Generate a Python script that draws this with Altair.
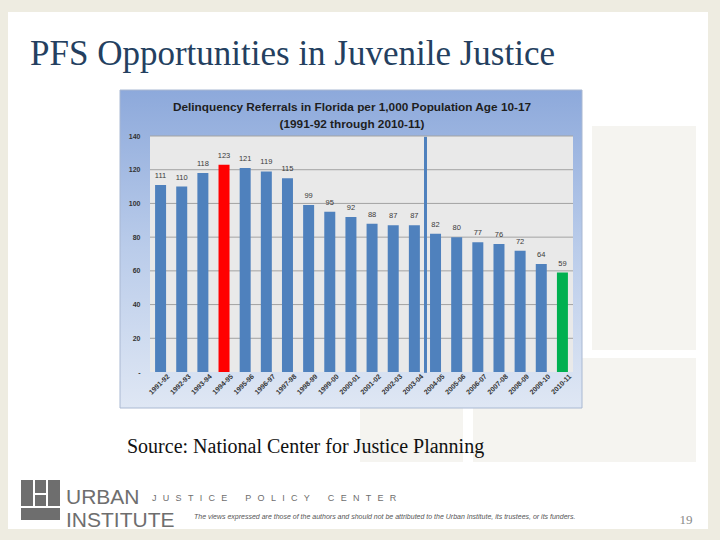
import altair as alt
import pandas as pd

# Delinquency referrals per 1,000 youths aged 10-17, Florida
years = ["1991-92", "1992-93", "1993-94", "1994-95", "1995-96", "1996-97",
         "1997-98", "1998-99", "1999-00", "2000-01", "2001-02", "2002-03",
         "2003-04", "2004-05", "2005-06", "2006-07", "2007-08", "2008-09",
         "2009-10", "2010-11"]
rates = [111, 110, 118, 123, 121, 119, 115, 99, 95, 92, 88, 87, 87, 82, 80,
         77, 76, 72, 64, 59]
peak_year = "1994-95"
latest_year = "2010-11"
divider_year = "2004-05"
y_ticks = [0, 20, 40, 60, 80, 100, 120, 140]
grid_ticks = [20, 40, 60, 80, 100, 120, 140]

df = pd.DataFrame({"year": years, "rate": rates})
df["group"] = ["peak" if y == peak_year else "latest" if y == latest_year else "other"
               for y in years]
grid_df = pd.DataFrame({"rate": grid_ticks})
divider_df = pd.DataFrame({"year": [divider_year], "rate": [139.5], "base": [-0.5]})
one = pd.DataFrame({"k": [0]})

# plot area placement on the 720x540 page
OX, OY = 150, 136
W, H = 423, 236

FONT = "Liberation Sans"
SERIF = "Liberation Serif"

x_axis = alt.Axis(labelAngle=-45, labelAlign="right", labelBaseline="middle",
                  labelOffset=8, labelPadding=3, ticks=False, domain=False,
                  grid=False, zindex=1)
y_axis = alt.Axis(values=y_ticks, ticks=False, domain=False, grid=False,
                  labelPadding=10, zindex=1,
                  labelExpr="datum.value == 0 ? '-' : datum.label")
x_scale = alt.Scale(domain=years, paddingInner=0.48, paddingOuter=0.24)
y_scale = alt.Scale(domain=[0, 140], nice=False)

x_enc = alt.X("year:N", sort=years, title=None, scale=x_scale, axis=x_axis)
y_enc = alt.Y("rate:Q", title=None, scale=y_scale, axis=y_axis)


def box(x0, y0, x1, y1, **kw):
    return alt.Chart(one).mark_rect(**kw).encode(
        x=alt.value(x0 - OX), x2=alt.value(x1 - OX),
        y=alt.value(y0 - OY), y2=alt.value(y1 - OY))


def label(text, x, y, **kw):
    return alt.Chart(one).mark_text(text=text, **kw).encode(
        x=alt.value(x - OX), y=alt.value(y - OY))


# slide furniture
page = box(8, 12, 708, 529, fill="white")
tiles = [
    box(592, 126, 696, 350, fill="#F5F4F0"),
    box(360, 358, 463, 462, fill="#F5F4F0"),
    box(473, 358, 696, 462, fill="#F5F4F0"),
]
chart_bg = box(120, 90, 582, 408,
               fill={"gradient": "linear", "x1": 0, "x2": 0, "y1": 0, "y2": 1,
                     "stops": [{"offset": 0, "color": "#8DA9DB"},
                               {"offset": 0.5, "color": "#BACCEA"},
                               {"offset": 1, "color": "#DFE7F4"}]},
               stroke="#A9B8D2", strokeWidth=1)
plot_bg = alt.Chart(one).mark_rect(fill="#E9E9E9").encode(
    x=alt.value(0), x2=alt.value(W), y=alt.value(0), y2=alt.value(H))

grid = alt.Chart(grid_df).mark_rule(color="#A3A3A3", strokeWidth=1).encode(
    y=y_enc, x=alt.value(0), x2=alt.value(W))

bars = alt.Chart(df).mark_bar().encode(
    x=x_enc, y=y_enc,
    color=alt.Color("group:N",
                    scale=alt.Scale(domain=["other", "peak", "latest"],
                                    range=["#4F81BD", "#FF0000", "#00B050"]),
                    legend=None))

values = alt.Chart(df).mark_text(dy=-5, fontSize=7.5, font=FONT, color="#3A3A3A",
                                 baseline="bottom").encode(
    x=x_enc, y=y_enc, text=alt.Text("rate:Q"))

# vertical marker between 2003-04 and 2004-05
divider = alt.Chart(divider_df).mark_rule(color="#4F81BD", strokeWidth=3,
                                          xOffset=-10).encode(
    x=x_enc, y=y_enc, y2="base:Q")

chart_title = [
    label("Delinquency Referrals in Florida per 1,000 Population Age 10-17", 352, 107,
          font=FONT, fontSize=11.8, fontWeight="bold", color="#1E1E1E", align="center"),
    label("(1991-92 through 2010-11)", 352, 124,
          font=FONT, fontSize=11.8, fontWeight="bold", color="#1E1E1E", align="center"),
]

LS = "\u2002\u2009"   # gap between letters
WS = "\u2003\u2003"   # gap between words
centre_name = WS.join(LS.join(w) for w in ["JUSTICE", "POLICY", "CENTER"])

slide_text = [
    label("PFS Opportunities in Juvenile Justice", 30, 54, font=SERIF, fontSize=35,
          color="#243F60", align="left"),
    label("Source: National Center for Justice Planning", 127, 447, font=SERIF,
          fontSize=20, color="#111111", align="left"),
    label("URBAN", 66, 498, font=FONT, fontSize=21, color="#6E6E6E", align="left"),
    label("INSTITUTE", 66, 521, font=FONT, fontSize=21, color="#6E6E6E", align="left"),
    label(centre_name, 152, 498, font=FONT, fontSize=9, color="#6E6E6E", align="left"),
    label("The views expressed are those of the authors and should not be attributed to "
          "the Urban Institute, its trustees, or its funders.", 194, 517, font=FONT,
          fontSize=7, fontStyle="italic", color="#555555", align="left"),
    label("19", 686, 520, font=SERIF, fontSize=13, color="#8A8A8A", align="center"),
]

# logo mark: grey square split by white rules
logo = [
    box(21, 480, 60, 520, fill="#6E6E6E"),
    box(33, 480, 35, 507, fill="white"),
    box(46, 480, 48, 507, fill="white"),
    box(35, 493, 46, 495, fill="white"),
    box(21, 506, 60, 508, fill="white"),
]

chart = alt.layer(
    page, *tiles, chart_bg, plot_bg, grid, bars, divider, values,
    *chart_title, *slide_text, *logo
).properties(
    width=W, height=H,
    autosize=alt.AutoSizeParams(type="none"),
    padding={"left": OX, "top": OY, "right": 720 - OX - W, "bottom": 540 - OY - H},
).configure(
    background="#EEECE1",
).configure_view(
    stroke=None,
).configure_axis(
    labelFont=FONT, labelFontSize=7, labelFontWeight="bold", labelColor="#333333",
)

chart.save("out.html", embed_options={"renderer": "svg", "actions": False})
